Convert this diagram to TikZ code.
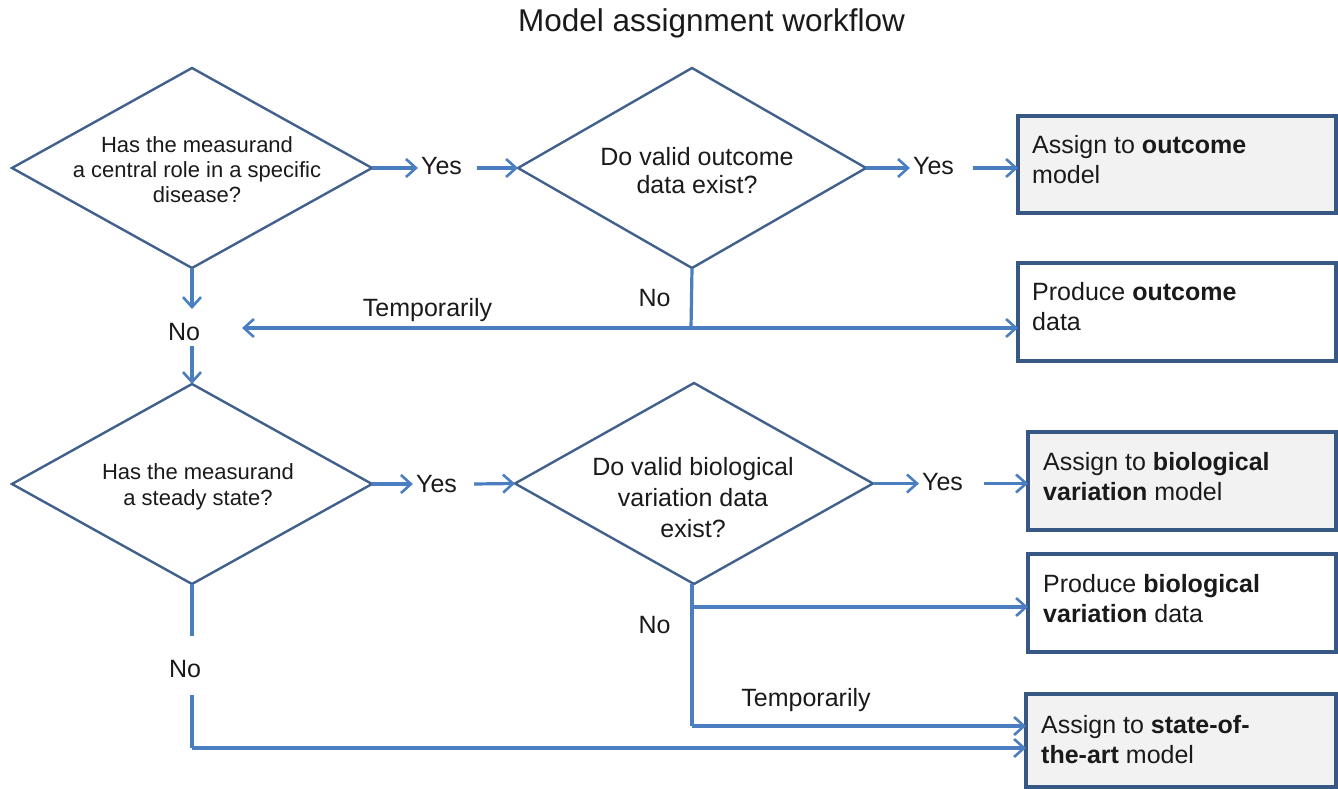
\documentclass[tikz,border=0pt]{standalone}
\usepackage{fontspec}
\setmainfont{Liberation Sans}
\usetikzlibrary{shapes.geometric,arrows.meta}
\definecolor{arrowblue}{HTML}{4A7EC0}
\definecolor{dmdblue}{HTML}{41608C}
\definecolor{boxblue}{HTML}{375784}
\definecolor{boxgray}{HTML}{F2F2F2}
\definecolor{txt}{HTML}{1A1A1A}
\begin{document}
\begin{tikzpicture}[x=1pt,y=-1pt,
  dmd/.style={diamond, draw=dmdblue, line width=2.4pt, inner sep=0pt, outer sep=0pt},
  dtxt/.style={align=center, inner sep=0pt, text=txt},
  boxnode/.style={rectangle, draw=boxblue, line width=3.4pt, inner sep=0pt, outer sep=0pt},
  btxt/.style={anchor=north west, align=left, inner sep=0pt, text=txt, font=\fontsize{25}{30}\selectfont},
  lbl/.style={anchor=base, inner sep=0pt, text=txt, font=\fontsize{25}{30}\selectfont},
  ln/.style={draw=arrowblue, line width=3.2pt},
  arr/.style={ln, -{Straight Barb[length=10pt,width=18pt,line width=2.6pt]}}
]
\useasboundingbox (0,0) rectangle (1338,789);

% title
\node[anchor=base, inner sep=0pt, text=txt, font=\fontsize{31.5}{36}\selectfont] (title) at (711.5,32) {Model assignment workflow};

% diamonds
\node[dmd, minimum width=360pt, minimum height=200pt] (d1) at (192,168) {};
\node[dmd, minimum width=348pt, minimum height=200pt] (d2) at (692,168) {};
\node[dmd, minimum width=360pt, minimum height=200pt] (d3) at (192,484) {};
\node[dmd, minimum width=358pt, minimum height=201pt] (d4) at (694,483.5) {};

\node[dtxt, font=\fontsize{22}{25}\selectfont] (t1) at (197,170) {Has the measurand\\a central role in a specific\\disease?};
\node[dtxt, font=\fontsize{25}{28}\selectfont] (t2) at (697,171) {Do valid outcome\\data exist?};
\node[dtxt, font=\fontsize{22}{26}\selectfont] (t3) at (198,487) {Has the measurand\\a steady state?};
\node[dtxt, font=\fontsize{25}{31}\selectfont] (t4) at (693,498) {Do valid biological\\variation data\\exist?};

% boxes
\node[boxnode, fill=boxgray, minimum width=318pt, minimum height=97pt] (b1) at (1177,164.5) {};
\node[boxnode, fill=white, minimum width=318pt, minimum height=98pt] (b2) at (1177,312) {};
\node[boxnode, fill=boxgray, minimum width=308pt, minimum height=98pt] (b3) at (1182,481) {};
\node[boxnode, fill=white, minimum width=308pt, minimum height=98pt] (b4) at (1182,603) {};
\node[boxnode, fill=boxgray, minimum width=310pt, minimum height=93pt] (b5) at (1181,740.5) {};

\node[btxt] (bt1) at ([shift={(14,19)}]b1.north west) {Assign to \textbf{outcome}\\model};
\node[btxt] (bt2) at ([shift={(14,19)}]b2.north west) {Produce \textbf{outcome}\\data};
\node[btxt] (bt3) at ([shift={(15,20)}]b3.north west) {Assign to \textbf{biological}\\\textbf{variation} model};
\node[btxt] (bt4) at ([shift={(15,20)}]b4.north west) {Produce \textbf{biological}\\\textbf{variation} data};
\node[btxt] (bt5) at ([shift={(15,21)}]b5.north west) {Assign to \textbf{state-of-}\\\textbf{the-art} model};

% labels
\node[lbl] (y1) at (441.5,175) {Yes};
\node[lbl] (y2) at (933.5,174) {Yes};
\node[lbl] (y3) at (436.5,492) {Yes};
\node[lbl] (y4) at (942.5,490) {Yes};
\node[lbl] (n1) at (184,340) {No};
\node[lbl] (n2) at (654.5,306) {No};
\node[lbl] (n3) at (185,677) {No};
\node[lbl] (n4) at (654.5,633) {No};
\node[lbl] (tp1) at (427.5,316) {Temporarily};
\node[lbl] (tp2) at (806,706) {Temporarily};

% helper coordinates
\coordinate (j1) at (691,328);
\coordinate (tip1) at (242,328);
\coordinate (j2) at (692,607);
\coordinate (j3) at (692,726);
\coordinate (j4) at (192,748);

% connectors row 1
\draw[arr] (d1.east) -- ([xshift=-3pt]y1.west |- d1.east);
\draw[arr] ([xshift=15pt]y1.east |- d1.east) -- (d2.west);
\draw[arr] (d2.east) -- ([xshift=-3pt]y2.west |- d2.east);
\draw[arr] ([xshift=19pt]y2.east |- d2.east) -- (d2.east -| b1.west);

% D1 down
\draw[arr] (d1.south) -- (d1.south |- 0,309);
\draw[arr] (d1.south |- 0,346) -- (d3.north);

% D2 no branch
\draw[ln] (d2.south) -- (j1);
\draw[arr] (j1) -- (tip1);
\draw[arr] (j1) -- (j1 -| b2.west);

% row 2
\draw[arr] (d3.east) -- ([xshift=-3pt]y3.west |- d3.east);
\draw[arr] ([xshift=17pt]y3.east |- d3.east) -- (d4.west);
\draw[arr] (d4.east) -- ([xshift=-3pt]y4.west |- d4.east);
\draw[arr] ([xshift=21pt]y4.east |- d4.east) -- (d4.east -| b3.west);

% D4 no branch
\draw[ln] (d4.south -| j2) -- (j3);
\draw[arr] (j2) -- (j2 -| b4.west);
\draw[arr] (j3) -- (j3 -| b5.west);

% D3 no branch
\draw[ln] (d3.south) -- (d3.south |- 0,636);
\draw[ln] (d3.south |- 0,695) -- (j4);
\draw[arr] (j4) -- (j4 -| b5.west);
\end{tikzpicture}
\end{document}
